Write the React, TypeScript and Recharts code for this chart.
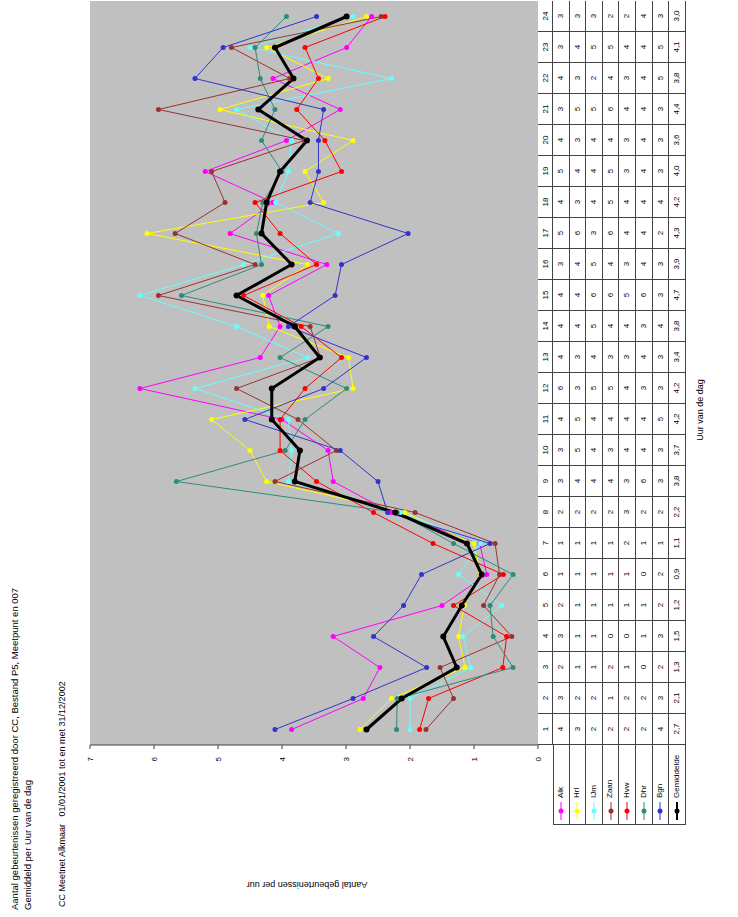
import { LineChart, Line, XAxis, YAxis, CartesianGrid } from 'recharts';

// hours of the day (category axis)
const HOURS = ['1', '2', '3', '4', '5', '6', '7', '8', '9', '10', '11', '12', '13', '14', '15', '16', '17', '18', '19', '20', '21', '22', '23', '24'];

const SERIES_NAMES = ['Alk', 'Hrl', 'IJm', 'Zaan', 'Hvw', 'Dhr', 'Bgn', 'Gemiddelde'];
const SERIES_COLORS = ['#FF00FF', '#FFFF00', '#66FFFF', '#993333', '#FF0000', '#2E8B7A', '#3333CC', '#000000'];

const magenta = [3.85, 2.73, 2.47, 3.2, 1.5, 0.8, 0.91, 2.3, 3.2, 3.28, 4.0, 6.22, 4.34, 4.03, 4.21, 3.3, 4.81, 4.14, 5.2, 3.93, 3.09, 4.14, 2.99, 2.6];
const yellow = [2.78, 2.29, 1.14, 1.24, 1.15, 0.9, 1.0, 2.08, 4.24, 4.5, 5.1, 2.89, 2.96, 4.2, 4.3, 3.6, 6.11, 3.35, 3.64, 2.89, 4.97, 3.28, 4.24, 2.68];
const cyan = [2.0, 2.0, 1.05, 1.17, 0.57, 1.24, 0.9, 2.15, 3.9, 3.85, 3.9, 5.36, 3.6, 4.71, 6.22, 4.6, 3.12, 4.1, 3.9, 3.85, 4.71, 2.29, 4.5, 2.89];
const brown = [1.75, 1.32, 1.53, 0.41, 0.85, 0.6, 0.67, 1.92, 4.11, 3.15, 3.75, 4.71, 3.4, 3.56, 5.93, 4.42, 5.67, 4.89, 5.1, 3.65, 5.93, 3.88, 4.79, 2.45];
const red = [1.85, 1.71, 0.55, 0.49, 1.32, 0.54, 1.64, 2.57, 3.46, 4.03, 4.03, 3.64, 3.07, 3.7, 4.6, 3.46, 4.03, 4.42, 3.07, 3.33, 3.77, 3.43, 3.64, 2.39];
const teal = [2.21, 2.2, 0.39, 0.7, 0.75, 0.39, 1.32, 2.2, 5.65, 3.95, 3.64, 2.99, 4.03, 3.28, 5.57, 4.32, 4.4, 4.3, 4.0, 4.32, 4.11, 4.34, 4.42, 3.93];
const blue = [4.11, 2.89, 1.74, 2.57, 2.1, 1.82, 0.75, 2.35, 2.5, 3.09, 4.58, 3.35, 2.68, 3.9, 3.17, 3.07, 2.03, 3.56, 3.43, 3.43, 3.35, 5.36, 4.92, 3.46];
const gemiddelde = [2.68, 2.13, 1.27, 1.48, 1.19, 0.88, 1.11, 2.23, 3.8, 3.72, 4.16, 4.16, 3.41, 3.8, 4.71, 3.85, 4.32, 4.24, 4.03, 3.61, 4.37, 3.82, 4.11, 2.99];

const VALUE_TICKS = [0, 1, 2, 3, 4, 5, 6, 7];

const SERIES = [magenta, yellow, cyan, brown, red, teal, blue, gemiddelde];

const data = HOURS.map((h, i) => {
  const row: Record<string, string | number> = { hour: h };
  SERIES.forEach((s, k) => {
    row['s' + k] = s[i];
  });
  return row;
});

// layout of the (landscape) page before it is turned
const PAGE_W = 917;
const PAGE_H = 738;
const PLOT_LEFT = 172;
const PLOT_TOP = 90;
const PLOT_BOTTOM = 538;
const BAND = 31;
const HEAD_H = 15;
const ROW_H = 16.6;
const LEG_LEFT = 92;

const font = '"Liberation Sans", Arial, sans-serif';

function fmtCell(v: number, avg: boolean) {
  return avg ? v.toFixed(1).replace('.', ',') : String(Math.round(v));
}

function DataTable() {
  const cells: JSX.Element[] = [];
  const border = '1px solid #444';
  HOURS.forEach((h, i) => {
    cells.push(
      <div
        key={'h' + i}
        style={{
          position: 'absolute', left: PLOT_LEFT + i * BAND, top: PLOT_BOTTOM, width: BAND, height: HEAD_H,
          borderLeft: border, borderBottom: border, boxSizing: 'border-box',
          fontSize: 8, textAlign: 'center', lineHeight: HEAD_H + 'px',
        }}
      >
        {h}
      </div>
    );
    SERIES.forEach((s, k) => {
      cells.push(
        <div
          key={'c' + i + '-' + k}
          style={{
            position: 'absolute', left: PLOT_LEFT + i * BAND, top: PLOT_BOTTOM + HEAD_H + k * ROW_H, width: BAND, height: ROW_H,
            borderLeft: border, borderBottom: border, boxSizing: 'border-box',
            fontSize: 8, textAlign: 'center', lineHeight: ROW_H + 'px',
          }}
        >
          {fmtCell(s[i], k === SERIES.length - 1)}
        </div>
      );
    });
  });
  SERIES_NAMES.forEach((name, k) => {
    const c = SERIES_COLORS[k];
    cells.push(
      <div
        key={'l' + k}
        style={{
          position: 'absolute', left: LEG_LEFT, top: PLOT_BOTTOM + HEAD_H + k * ROW_H, width: PLOT_LEFT - LEG_LEFT, height: ROW_H,
          borderLeft: border, borderBottom: border, borderTop: k === 0 ? border : undefined, boxSizing: 'border-box',
          fontSize: 8, lineHeight: ROW_H + 'px', display: 'flex', alignItems: 'center',
        }}
      >
        <svg width={18} height={8} style={{ marginLeft: 4, marginRight: 4 }}>
          <line x1={0} y1={4} x2={18} y2={4} stroke={c} strokeWidth={k === 7 ? 2 : 1} />
          <circle cx={9} cy={4} r={2.5} fill={c} />
        </svg>
        {name}
      </div>
    );
  });
  return <>{cells}</>;
}

export default function App() {
  return (
    <div
      style={{
        position: 'absolute', left: 0, top: 0, width: PAGE_W, height: PAGE_H, background: '#fff',
        transformOrigin: '0 0', transform: `translateY(${PAGE_W}px) rotate(-90deg)`, fontFamily: font, color: '#000',
      }}
    >
      <div style={{ position: 'absolute', left: 7, top: 8, fontSize: 9.5, lineHeight: '13px', whiteSpace: 'nowrap' }}>
        Aantal gebeurtenissen geregistreerd door CC, Bestand P5, Meetpunt en 007
        <br />
        Gemiddeld per Uur van de dag
      </div>
      <div style={{ position: 'absolute', left: 10, top: 57, fontSize: 9, whiteSpace: 'nowrap' }}>
        CC Meetnet Alkmaar &nbsp; 01/01/2001 tot en met 31/12/2002
      </div>

      <LineChart width={PAGE_W} height={PAGE_H} data={data} margin={{ top: PLOT_TOP, right: 1, bottom: PAGE_H - PLOT_BOTTOM, left: PLOT_LEFT - 40 }}>
        <CartesianGrid horizontal={false} vertical={false} fill="#C0C0C0" />
        <XAxis dataKey="hour" hide padding={{ left: BAND / 2, right: BAND / 2 }} />
        <YAxis
          type="number"
          domain={[0, 7]}
          ticks={VALUE_TICKS}
          width={40}
          tickSize={4}
          tickMargin={8}
          axisLine={{ stroke: '#404040' }}
          tickLine={{ stroke: '#404040' }}
          tick={{ fontSize: 8, fill: '#000', fontFamily: font }}
        />
        {SERIES.map((_, k) => (
          <Line
            key={k}
            type="linear"
            dataKey={'s' + k}
            name={SERIES_NAMES[k]}
            stroke={SERIES_COLORS[k]}
            strokeWidth={k === 7 ? 3 : 1}
            dot={{ r: k === 7 ? 3 : 2.5, fill: SERIES_COLORS[k], stroke: SERIES_COLORS[k], strokeWidth: 0 }}
            isAnimationActive={false}
          />
        ))}
      </LineChart>

      <DataTable />

      <div
        style={{
          position: 'absolute', left: 32, top: 307, fontSize: 9, whiteSpace: 'nowrap',
          transform: 'translate(-50%, -50%) rotate(-90deg)',
        }}
      >
        Aantal gebeurtenissen per uur
      </div>
      <div
        style={{
          position: 'absolute', left: 507, top: 700, fontSize: 9, whiteSpace: 'nowrap',
          transform: 'translate(-50%, -50%)',
        }}
      >
        Uur van de dag
      </div>
    </div>
  );
}
